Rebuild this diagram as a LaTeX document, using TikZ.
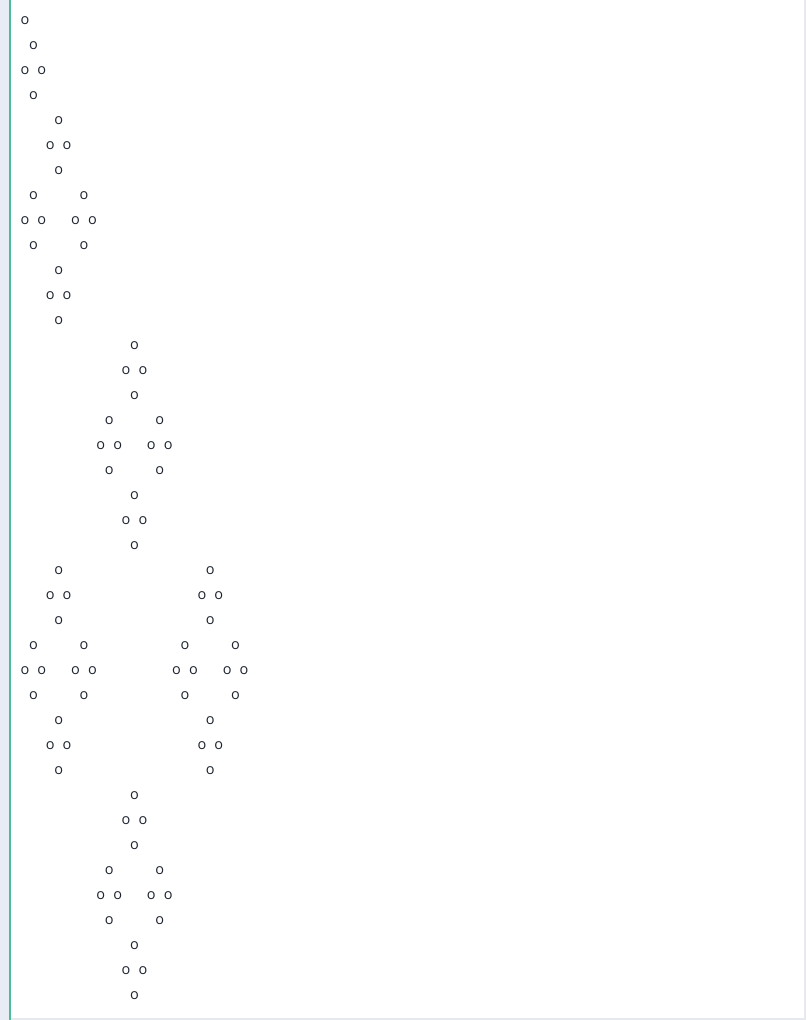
\documentclass[tikz,border=0pt]{standalone}
\usepackage{fontspec}
\setmainfont{Open Sans}
\definecolor{stripbg}{HTML}{E8ECF4}
\definecolor{edgeline}{HTML}{E6EAF0}
\definecolor{tealbar}{HTML}{4CBB98}
\definecolor{dotink}{HTML}{1E2430}
\begin{document}
\begin{tikzpicture}[x=1pt,y=-1pt,
  dot/.style={inner sep=0pt, outer sep=0pt, text=dotink, font=\fontsize{14.5}{15}\selectfont}]
\useasboundingbox (0,0) rectangle (806,1020);
\fill[white] (0,0) rectangle (806,1020);
\fill[stripbg] (0,0) rectangle (9,1020);
\fill[tealbar] (9,0) rectangle (11,1020);
\fill[edgeline] (804,0) rectangle (806,1020);
\fill[edgeline] (11,1018) rectangle (806,1020);
\foreach \r/\k in {1/0, 2/1, 3/0, 3/2, 4/1, 5/4, 6/3, 6/5, 7/4, 8/1, 8/7, 9/0, 9/2, 9/6, 9/8, 10/1, 10/7, 11/4, 12/3, 12/5, 13/4,
  14/13, 15/12, 15/14, 16/13, 17/10, 17/16, 18/9, 18/11, 18/15, 18/17, 19/10, 19/16, 20/13, 21/12, 21/14, 22/13,
  23/4, 23/22, 24/3, 24/5, 24/21, 24/23, 25/4, 25/22, 26/1, 26/7, 26/19, 26/25,
  27/0, 27/2, 27/6, 27/8, 27/18, 27/20, 27/24, 27/26, 28/1, 28/7, 28/19, 28/25,
  29/4, 29/22, 30/3, 30/5, 30/21, 30/23, 31/4, 31/22,
  32/13, 33/12, 33/14, 34/13, 35/10, 35/16, 36/9, 36/11, 36/15, 36/17, 37/10, 37/16, 38/13, 39/12, 39/14, 40/13}
  \node[dot] (n\r-\k) at ({25+8.423*\k},{20.5+25*(\r-1)}) {o};
\end{tikzpicture}
\end{document}
